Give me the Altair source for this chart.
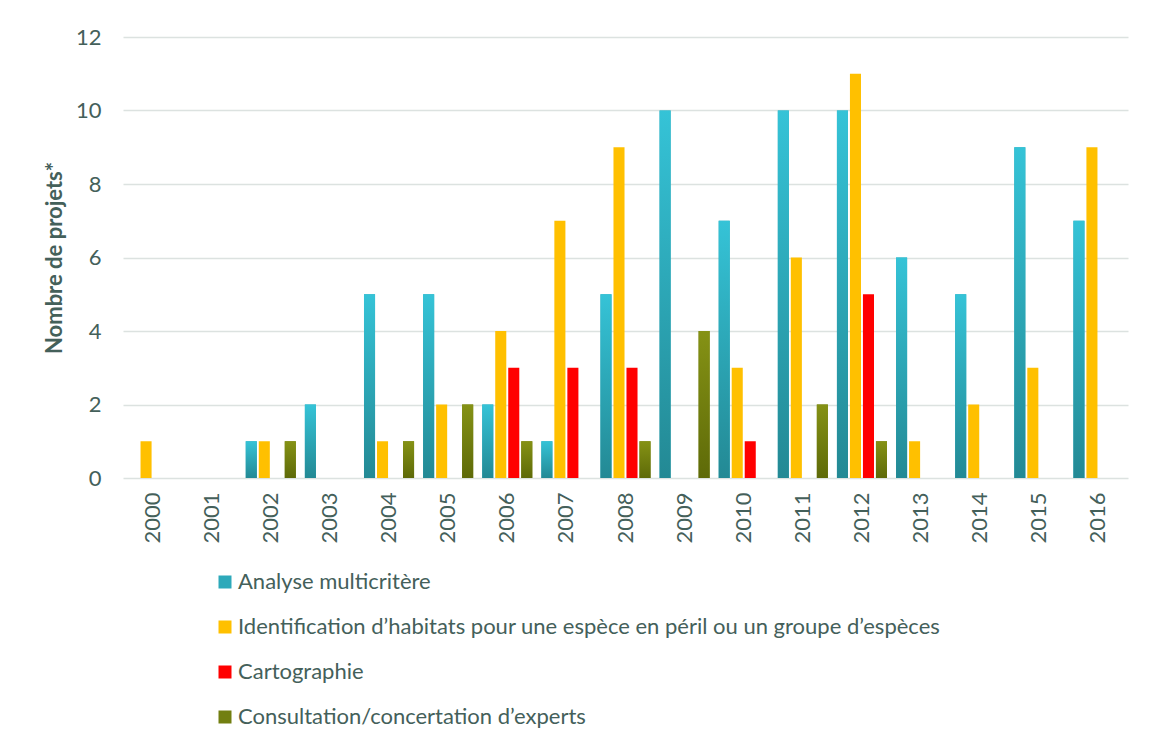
import altair as alt
import pandas as pd

years = [str(y) for y in range(2000, 2017)]
series = [
    "Analyse multicritère",
    "Identification d’habitats pour une espèce en péril ou un groupe d’espèces",
    "Cartographie",
    "Consultation/concertation d’experts",
]
analyse = [0, 0, 1, 2, 5, 5, 2, 1, 5, 10, 7, 10, 10, 6, 5, 9, 7]
identification = [1, 0, 1, 0, 1, 2, 4, 7, 9, 0, 3, 6, 11, 1, 2, 3, 9]
cartographie = [0, 0, 0, 0, 0, 0, 3, 3, 3, 0, 1, 0, 5, 0, 0, 0, 0]
consultation = [0, 0, 1, 0, 1, 2, 1, 0, 1, 4, 0, 2, 1, 0, 0, 0, 0]
colors = ["#2DA9BA", "#FFC000", "#FF0000", "#727F10"]

rows = []
for name, vals in zip(series, [analyse, identification, cartographie, consultation]):
    for y, v in zip(years, vals):
        rows.append({"year": y, "series": name, "value": v})
df = pd.DataFrame(rows)
df = df[df["value"] > 0]

text_color = "#44605A"
grid_color = "#DCE2E0"

base = alt.Chart(df).encode(
    x=alt.X(
        "year:N",
        sort=years,
        scale=alt.Scale(domain=years, paddingInner=0.12, paddingOuter=0.06),
        axis=alt.Axis(
            title=None, labelAngle=-90, labelPadding=14, ticks=False, domain=False,
            labelFontSize=22, labelColor=text_color,
        ),
    ),
    xOffset=alt.XOffset(
        "series:N", sort=series,
        scale=alt.Scale(domain=series, paddingInner=0.15, paddingOuter=0.075),
    ),
    y=alt.Y(
        "value:Q",
        scale=alt.Scale(domain=[0, 12]),
        axis=alt.Axis(
            title="Nombre de projets*", values=[0, 2, 4, 6, 8, 10, 12],
            grid=True, gridColor=grid_color, gridWidth=1.6, domain=False, ticks=False,
            labelPadding=22, labelFontSize=22, labelColor=text_color,
            titleFontSize=22, titleFontWeight="bold", titleColor=text_color, titlePadding=9,
        ),
    ),
)

bars = base.mark_bar().encode(
    color=alt.Color(
        "series:N", sort=series,
        scale=alt.Scale(domain=series, range=colors),
        legend=alt.Legend(
            title=None, orient="none", legendX=91, legendY=534, direction="vertical",
            symbolType="square", symbolSize=169, symbolStrokeWidth=0,
            labelFontSize=22, labelColor=text_color, labelLimit=0, labelOffset=2,
            rowPadding=23, padding=0,
        ),
    )
)

grad_a = alt.LinearGradient(
    gradient="linear",
    stops=[alt.GradientStop(color="#35C3D7", offset=0), alt.GradientStop(color="#238994", offset=1)],
    x1=0, x2=0, y1=0, y2=1,
)
grad_e = alt.LinearGradient(
    gradient="linear",
    stops=[alt.GradientStop(color="#859215", offset=0), alt.GradientStop(color="#5E6A08", offset=1)],
    x1=0, x2=0, y1=0, y2=1,
)

over_a = base.mark_bar(color=grad_a).transform_filter(alt.datum.series == series[0])
over_e = base.mark_bar(color=grad_e).transform_filter(alt.datum.series == series[3])

chart = alt.layer(bars, over_a, over_e).properties(
    width=1005,
    height=441,
    padding={"left": 115, "top": 29, "right": 15, "bottom": 261},
    autosize=alt.AutoSizeParams(type="none"),
).configure(font="Lato").configure_view(stroke=None)

chart.save("out.html", embed_options={"renderer": "svg", "actions": False})
